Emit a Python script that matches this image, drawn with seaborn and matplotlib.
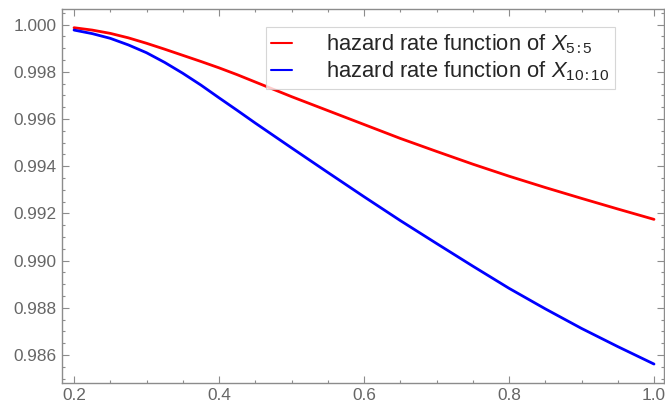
import numpy as np
import pandas as pd
import matplotlib
matplotlib.use("Agg")
import matplotlib.pyplot as plt
import seaborn as sns
from matplotlib.ticker import MultipleLocator, FormatStrFormatter

# ---- data ----
x_vals = [0.200, 0.225, 0.250, 0.275, 0.300, 0.325, 0.350, 0.375, 0.400, 0.425, 0.45,
          0.50, 0.55, 0.60, 0.65, 0.70, 0.75, 0.80, 0.85, 0.90, 0.95, 1.00]
hazard_5 = [0.99987, 0.99977, 0.99963, 0.99944, 0.99921, 0.99896, 0.99870, 0.99844, 0.99817,
            0.99788, 0.99757, 0.99695, 0.99636, 0.99577, 0.99518, 0.99463, 0.99409, 0.99358,
            0.99310, 0.99264, 0.99219, 0.99175]
hazard_10 = [0.99977, 0.99962, 0.99942, 0.99914, 0.99881, 0.99840, 0.99794, 0.99744, 0.99690,
             0.99637, 0.99583, 0.99478, 0.99374, 0.99271, 0.99170, 0.99073, 0.98977, 0.98883,
             0.98796, 0.98713, 0.98636, 0.98562]
series_labels = ["hazard rate function of $X_{5\u22365}$",
                 "hazard rate function of $X_{10\u223610}$"]
series_colors = ["#ff0000", "#0000ff"]
x_ticks = [0.2, 0.4, 0.6, 0.8, 1.0]
y_ticks = [0.986, 0.988, 0.990, 0.992, 0.994, 0.996, 0.998, 1.000]

df = pd.DataFrame({
    "x": x_vals * 2,
    "y": hazard_5 + hazard_10,
    "series": [series_labels[0]] * len(x_vals) + [series_labels[1]] * len(x_vals),
})

sns.set_style("ticks")
plt.rcParams["font.family"] = ["Liberation Sans", "DejaVu Sans"]
plt.rcParams["mathtext.fontset"] = "custom"
plt.rcParams["mathtext.rm"] = "Liberation Sans"
plt.rcParams["mathtext.it"] = "Liberation Sans:italic"
plt.rcParams["mathtext.fallback"] = "stixsans"

fig = plt.figure(figsize=(6.65, 4.08), dpi=100)
ax = fig.add_axes([62 / 665, (408 - 382.7) / 408, 602 / 665, 373.4 / 408])

sns.lineplot(data=df, x="x", y="y", hue="series", palette=series_colors,
             linewidth=2.0, ax=ax, legend=True)

ax.set_xlim(0.1834, 1.0138)
ax.set_ylim(0.98483, 1.00065)
ax.set_xticks(x_ticks)
ax.set_yticks(y_ticks)
ax.xaxis.set_major_formatter(FormatStrFormatter("%.1f"))
ax.yaxis.set_major_formatter(FormatStrFormatter("%.3f"))
ax.xaxis.set_minor_locator(MultipleLocator(0.05))
ax.yaxis.set_minor_locator(MultipleLocator(0.0005))
ax.set_xlabel("")
ax.set_ylabel("")

spine_col = "#8c8c8c"
for s in ax.spines.values():
    s.set_color(spine_col)
    s.set_linewidth(1.0)
ax.tick_params(which="both", direction="in", top=True, right=True,
               color=spine_col, width=0.8)
ax.tick_params(which="major", length=4.8, labelsize=12.4, labelcolor="#666666", pad=4)
ax.tick_params(which="minor", length=2.4)

leg = ax.legend(loc="upper left", bbox_to_anchor=(0.3384, 0.9518), borderaxespad=0,
                frameon=True, fancybox=False, fontsize=15.8, handlelength=0.95,
                handletextpad=1.55, labelspacing=0.15, borderpad=0.25)
leg.get_frame().set_edgecolor("#cccccc")
leg.get_frame().set_linewidth(0.8)
for line in leg.get_lines():
    line.set_linewidth(1.5)

fig.savefig("out.png", dpi=100)
